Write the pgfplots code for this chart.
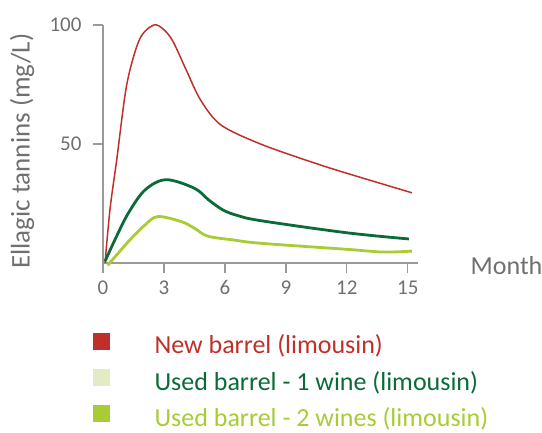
\documentclass[border=0pt]{standalone}
\usepackage{fontspec}
\setmainfont{Carlito}
\usepackage{pgfplots}
\pgfplotsset{compat=1.18}
\definecolor{newred}{HTML}{C0302B}
\definecolor{darkgr}{HTML}{0B6B37}
\definecolor{lightgr}{HTML}{A7CC36}
\definecolor{palegr}{HTML}{E2EBC4}
\definecolor{txtgray}{HTML}{707070}
\definecolor{axgray}{HTML}{9A9A9A}
\begin{document}
\begin{tikzpicture}
\useasboundingbox (0,0) rectangle (542pt,432pt);
\begin{axis}[
  at={(103pt,169pt)}, anchor=south west,
  scale only axis, width=315pt, height=238pt,
  xmin=0, xmax=15.5, ymin=0, ymax=100,
  clip=false,
  axis lines=left,
  axis line style={-, axgray, line width=1.2pt},
  tick style={axgray, line width=1.2pt},
  tick align=outside,
  major tick length=10pt,
  xtick={0,3,...,15}, ytick={50,100},
  /pgf/number format/assume math mode=true,
  ticklabel style={font=\fontsize{21}{24}\selectfont, text=txtgray},
  xticklabel style={yshift=-4pt},
  yticklabel style={xshift=-8pt},
  ylabel={Ellagic tannins (mg/L)},
  ylabel style={font=\fontsize{27}{30}\selectfont, text=txtgray,
    at={(axis description cs:-0.257,0.47)}, anchor=center},
  xlabel={Month},
  xlabel style={font=\fontsize{26}{30}\selectfont, text=txtgray,
    at={(axis description cs:1.156,-0.01)}, anchor=west},
  legend style={at={(axis description cs:-0.0415,-0.284)}, anchor=north west,
    draw=none, fill=none, row sep=11pt,
    font=\fontsize{26}{30}\selectfont,
    nodes={inner sep=0pt, text height=18pt, text depth=4pt}},
  legend cell align=left,
]
\addplot[forget plot, newred, line width=1.5pt, smooth, tension=0.5] coordinates {
  (0.1,0) (0.35,23) (0.67,43) (1.17,75) (1.8,94) (2.5,100) (3.0,98) (3.45,93)
  (4.1,81) (4.8,68.5) (5.8,58) (7.75,50) (10.2,42.6) (12,37.7) (15.2,29.5)};
\addplot[forget plot, darkgr, line width=2.8pt, smooth, tension=0.55] coordinates {
  (0.1,0.7) (0.6,10) (1.25,21) (2.07,30.7) (3.1,35) (4.5,31.4) (5.2,26.5) (5.9,22.3)
  (6.6,20) (7.75,17.8) (12,12.7) (15.05,10.1)};
\addplot[forget plot, lightgr, line width=2.8pt, smooth, tension=0.55] coordinates {
  (0.23,-1) (1.25,9) (2.07,16) (2.7,19.5) (3.85,17.4) (4.5,14.6) (5.15,11.3)
  (6.4,9.7) (7.75,8.3) (12,5.75) (13.8,4.6) (15.2,5)};
\addlegendimage{legend image code/.code={\fill[newred] (0pt,-2pt) rectangle (16pt,14pt); \path (61pt,0pt);}}
\addlegendentry{\textcolor{newred}{New barrel (limousin)}}
\addlegendimage{legend image code/.code={\fill[palegr] (0pt,-2pt) rectangle (16pt,14pt); \path (61pt,0pt);}}
\addlegendentry{\textcolor{darkgr}{Used barrel - 1 wine (limousin)}}
\addlegendimage{legend image code/.code={\fill[lightgr] (0pt,-2pt) rectangle (16pt,14pt); \path (61pt,0pt);}}
\addlegendentry{\textcolor{lightgr}{Used barrel - 2 wines (limousin)}}
\end{axis}
\end{tikzpicture}
\end{document}
